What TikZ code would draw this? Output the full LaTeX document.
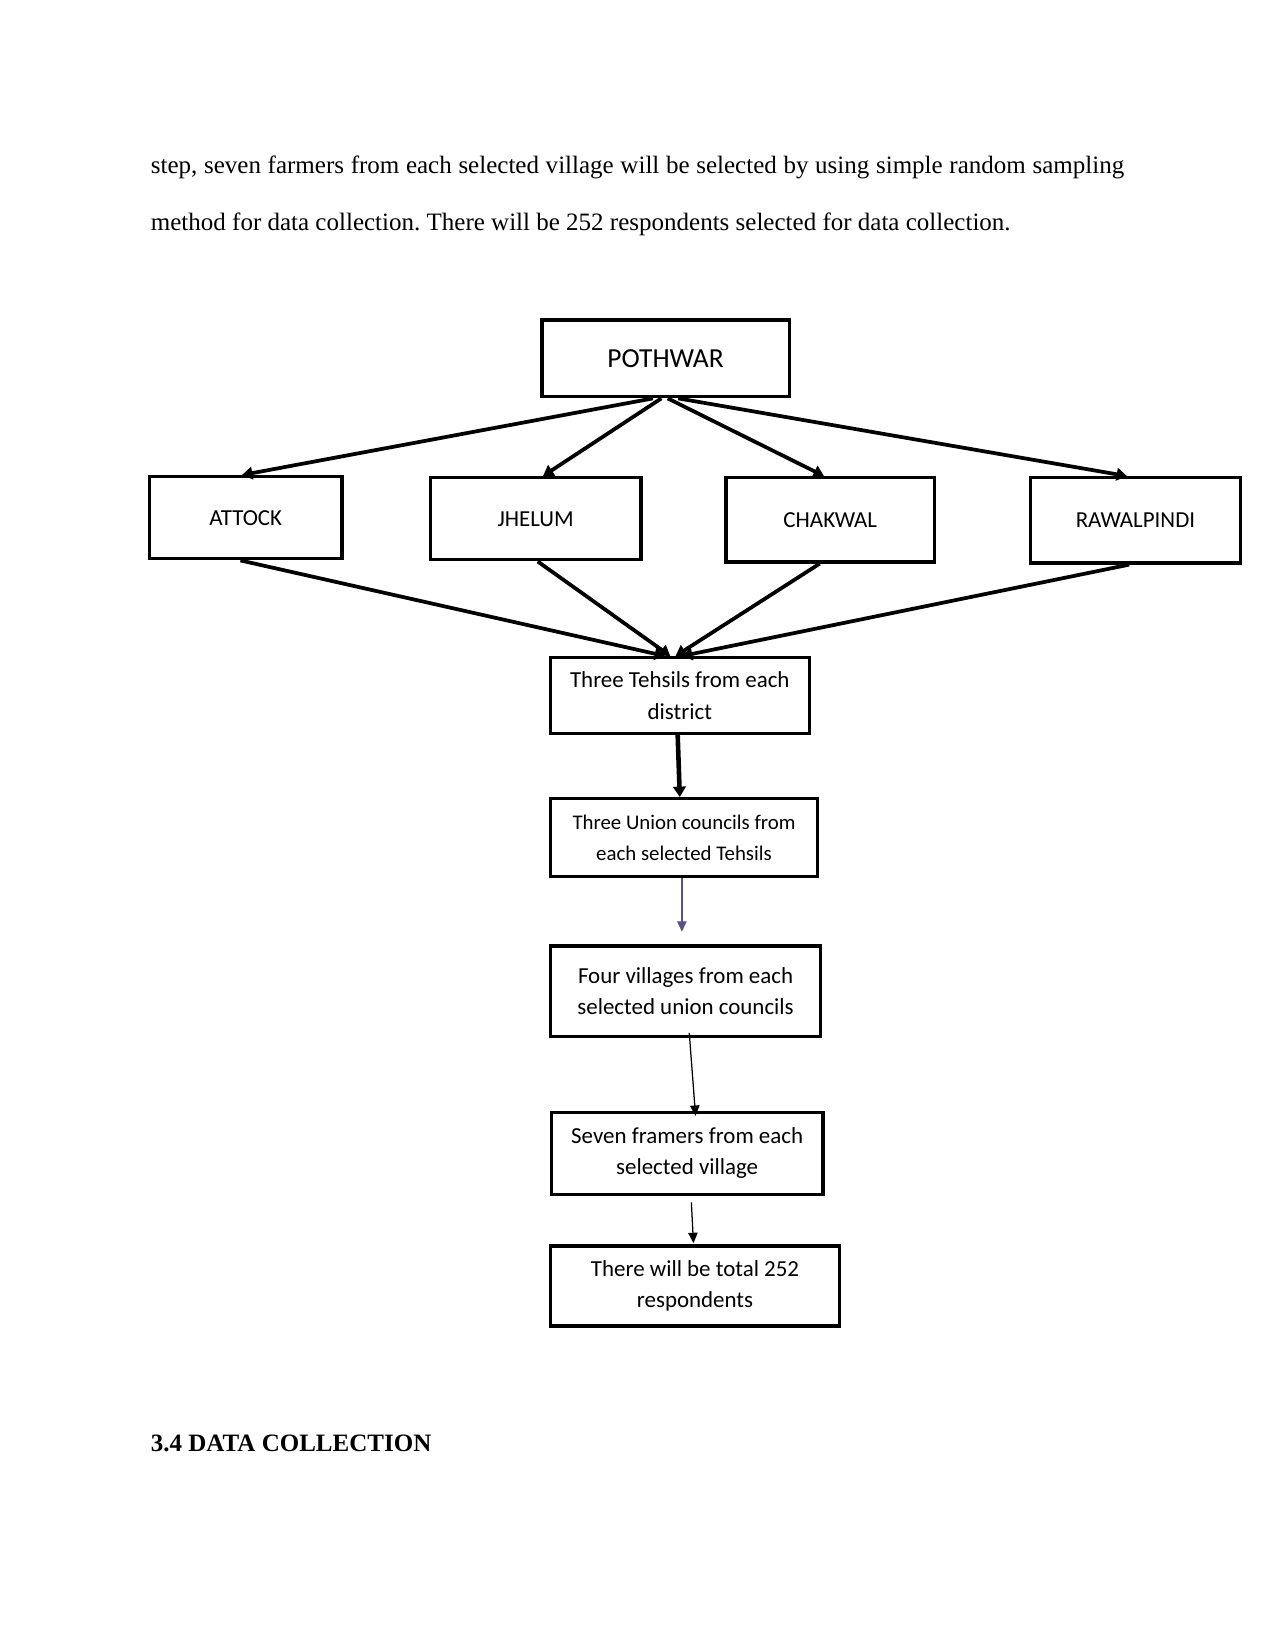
\documentclass[tikz,border=0pt]{standalone}
\usepackage{fontspec}
\setmainfont{Liberation Serif}
\newfontfamily\boxfont{Carlito}
\usetikzlibrary{arrows.meta,calc}
\def\U{0.50495pt}
\definecolor{arrowpurple}{RGB}{90,80,140}
\frenchspacing
\begin{document}
\begin{tikzpicture}[x=0.50495pt,y=-0.50495pt,
  box/.style={draw,line width=1.6pt,align=center,inner sep=0pt},
  fA/.style={font=\boxfont\fontsize{13.2}{15}\selectfont},
  fB/.style={font=\boxfont\fontsize{11}{13}\selectfont},
  fC/.style={font=\boxfont\fontsize{11}{15}\selectfont},
  fD/.style={font=\boxfont\fontsize{10}{14.6}\selectfont},
  bigarrow/.style={line width=1.8pt,-{Triangle[length=5pt,width=6pt]}},
  smallarrow/.style={line width=0.6pt,-{Triangle[length=5pt,width=4.5pt]}},
  bodytext/.style={anchor=base west,inner sep=0pt,font=\fontsize{12}{14}\selectfont}]
\useasboundingbox[fill=white] (0,0) rectangle (1212,1568);

% paragraph text
\node[bodytext] (l1) at (143,165) {\makebox[467pt][s]{step, seven farmers from each selected village will be selected by using simple random sampling}};
\node[bodytext] (l2) at (143,219) {method for data collection. There will be 252 respondents selected for data collection.};
\node[bodytext,font=\bfseries\fontsize{12}{14}\selectfont] (h) at (143,1379) {3.4 DATA COLLECTION};

% boxes
\node[box,fA,minimum width=235*\U,minimum height=73*\U] (p) at (632.5,340.5) {POTHWAR};
\node[box,fB,minimum width=183*\U,minimum height=78*\U] (att) at (233.5,492) {ATTOCK};
\node[box,fB,minimum width=200*\U,minimum height=78*\U] (jhe) at (509,493) {JHELUM};
\node[box,fB,minimum width=198*\U,minimum height=80*\U] (cha) at (789,494) {CHAKWAL};
\node[box,fB,minimum width=200*\U,minimum height=81*\U] (raw) at (1079,494.5) {RAWALPINDI};
\node[box,fC,minimum width=246*\U,minimum height=72*\U] (th) at (646,661) {Three Tehsils from each\\district};
\node[box,fD,minimum width=254*\U,minimum height=74*\U] (u) at (650,796) {Three Union councils from\\each selected Tehsils};
\node[box,fC,minimum width=257*\U,minimum height=86*\U] (f) at (651.5,942) {Four villages from each\\selected union councils};
\node[box,fC,minimum width=258*\U,minimum height=78*\U] (s) at (653,1096) {Seven framers from each\\selected village};
\node[box,fC,minimum width=275*\U,minimum height=76*\U] (t) at (660.5,1222) {There will be total 252\\respondents};

% arrows from POTHWAR
\draw[bigarrow] ($(p.south)+(-12,0)$) -- ($(att.north)+(-3.5,0)$);
\draw[bigarrow] ($(p.south)+(-4,0)$) -- ($(jhe.north)+(7,0)$);
\draw[bigarrow] ($(p.south)+(2,0)$) -- ($(cha.north)+(-6,0)$);
\draw[bigarrow] ($(p.south)+(12,0)$) -- ($(raw.north)+(-8,0)$);

% arrows to Tehsils
\draw[bigarrow] ($(att.south)+(-5,0)$) -- ($(th.north)+(-14,0)$);
\draw[bigarrow] ($(jhe.south)+(2,0)$) -- ($(th.north)+(-9,0)$);
\draw[bigarrow] ($(cha.south)+(-10,0)$) -- ($(th.north)+(-4,0)$);
\draw[bigarrow] ($(raw.south)+(-6,0)$) -- ($(th.north)+(2,0)$);

% vertical chain
\draw[bigarrow,line width=2.2pt] ($(th.south)+(-2,0)$) -- ($(u.north)+(-4,0)$);
\draw[smallarrow,draw=arrowpurple,fill=arrowpurple] ($(u.south)+(-2,0)$) -- ($(f.north)+(-3.5,-12)$);
\draw[smallarrow] ($(f.south)+(3.5,-5)$) -- ($(s.north)+(8,5)$);
\draw[smallarrow] ($(s.south)+(4,6)$) -- ($(t.north)+(-1.5,-1)$);
\end{tikzpicture}
\end{document}
